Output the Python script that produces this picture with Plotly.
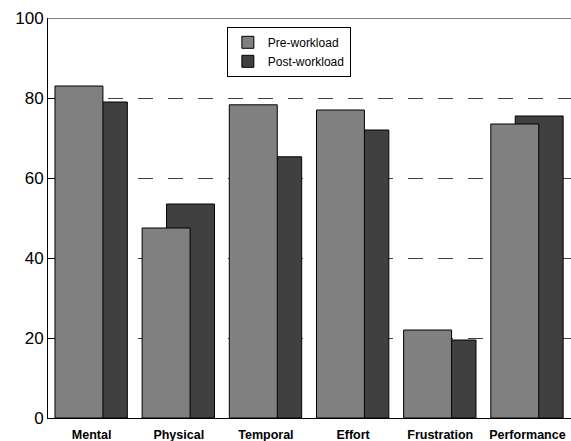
import plotly.graph_objects as go

categories = ["Mental", "Physical", "Temporal", "Effort", "Frustration", "Performance"]
pre_workload = [83, 47.5, 78.3, 77, 22, 73.5]
post_workload = [79, 53.5, 65.3, 72, 19.5, 75.5]
y_ticks = [0, 20, 40, 60, 80, 100]

FONT = "Arial, Liberation Sans, sans-serif"

fig = go.Figure()
fig.add_trace(go.Bar(
    x=categories, y=post_workload, name="Post-workload",
    marker=dict(color="#404040", line=dict(color="#000000", width=1)),
    width=0.55, offset=-0.14,
))
fig.add_trace(go.Bar(
    x=categories, y=pre_workload, name="Pre-workload",
    marker=dict(color="#808080", line=dict(color="#000000", width=1)),
    width=0.55, offset=-0.42,
))

fig.update_layout(
    width=571, height=441,
    margin=dict(l=48, r=0, t=18, b=23),
    paper_bgcolor="white", plot_bgcolor="white",
    barmode="overlay",
    showlegend=True,
    legend=dict(
        x=0.342, y=0.978, xanchor="left", yanchor="top",
        traceorder="reversed",
        bordercolor="#000000", borderwidth=1, bgcolor="white",
        font=dict(family=FONT, size=12, color="#000000"),
        itemwidth=30,
        tracegroupgap=0,
        entrywidth=118,
    ),
    font=dict(family=FONT, color="#000000"),
    xaxis=dict(
        showline=True, linecolor="#000000", linewidth=1,
        ticks="", showgrid=False,
        tickfont=dict(family=FONT, size=12.5, color="#000000", weight="bold"),
        ticklabelstandoff=5,
        range=[-0.5, 5.5],
    ),
    yaxis=dict(
        range=[0, 100], tickvals=y_ticks,
        showline=True, linecolor="#000000", linewidth=1,
        ticks="inside", ticklen=7, tickcolor="#000000",
        showgrid=True, gridcolor="#404040", gridwidth=1, griddash="15px,15px",
        tickfont=dict(family=FONT, size=17, color="#000000"),
        zeroline=False,
    ),
    shapes=[dict(type="line", xref="paper", yref="y", x0=0, x1=1, y0=100, y1=100,
                 line=dict(color="#000000", width=1))],
)

fig.write_html("out.html", config={"displayModeBar": False},
               post_script="document.body.style.margin='0';")
